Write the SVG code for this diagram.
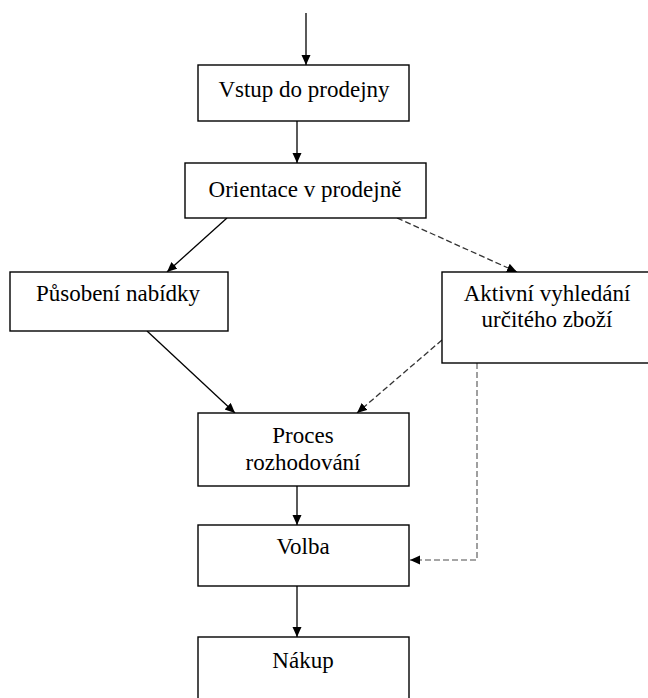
<svg xmlns="http://www.w3.org/2000/svg" width="648" height="698" viewBox="0 0 648 698">
<style>
  .box { fill: #ffffff; stroke: #000000; stroke-width: 1.4; }
  .lbl { font-family: "Liberation Serif", "Times New Roman", serif; font-size: 23px; fill: #000000; text-anchor: middle; }
  .solid { fill: none; stroke: #000000; stroke-width: 1.3; marker-end: url(#ah); }
  .dash { fill: none; stroke: #333333; stroke-width: 1.3; stroke-dasharray: 6 3; marker-end: url(#ah); }
  .dashg { fill: none; stroke: #888888; stroke-width: 1.6; stroke-dasharray: 6 3; marker-end: url(#ah); }
</style>
<defs>
  <marker id="ah" markerUnits="userSpaceOnUse" markerWidth="11" markerHeight="10" refX="10" refY="4.5" orient="auto">
    <path d="M0,0 L10,4.5 L0,9 z" fill="#000000"/>
  </marker>
</defs>
<rect width="648" height="698" fill="#ffffff"/>
<g id="connectors">
  <line class="solid" x1="306" y1="13" x2="306" y2="65"/>
  <line class="solid" x1="297" y1="121" x2="297" y2="163"/>
  <line class="solid" x1="227" y1="218" x2="167" y2="272"/>
  <line class="dash" x1="397" y1="218" x2="517" y2="272"/>
  <line class="solid" x1="147" y1="331" x2="235" y2="413"/>
  <line class="dash" x1="442" y1="340" x2="357" y2="413"/>
  <line class="solid" x1="297" y1="486" x2="297" y2="525"/>
  <line class="solid" x1="297" y1="586" x2="297" y2="637"/>
  <polyline class="dashg" points="477,363 477,560 410,560"/>
</g>
<g id="vstup">
  <rect class="box" x="198" y="65" width="211" height="56"/>
  <text class="lbl" x="304" y="97">Vstup do prodejny</text>
</g>
<g id="orientace">
  <rect class="box" x="185" y="163" width="241" height="55"/>
  <text class="lbl" x="305" y="197">Orientace v prodejně</text>
</g>
<g id="pusobeni">
  <rect class="box" x="10" y="272" width="218" height="59"/>
  <text class="lbl" x="118" y="301">Působení nabídky</text>
</g>
<g id="aktivni">
  <rect class="box" x="442" y="272" width="210" height="91"/>
  <text class="lbl" x="547" y="301">Aktivní vyhledání</text>
  <text class="lbl" x="547" y="327">určitého zboží</text>
</g>
<g id="proces">
  <rect class="box" x="198" y="413" width="211" height="73"/>
  <text class="lbl" x="303" y="443">Proces</text>
  <text class="lbl" x="303" y="470">rozhodování</text>
</g>
<g id="volba">
  <rect class="box" x="198" y="525" width="211" height="61"/>
  <text class="lbl" x="303" y="554">Volba</text>
</g>
<g id="nakup">
  <rect class="box" x="198" y="637" width="211" height="70"/>
  <text class="lbl" x="303" y="668">Nákup</text>
</g>
</svg>
